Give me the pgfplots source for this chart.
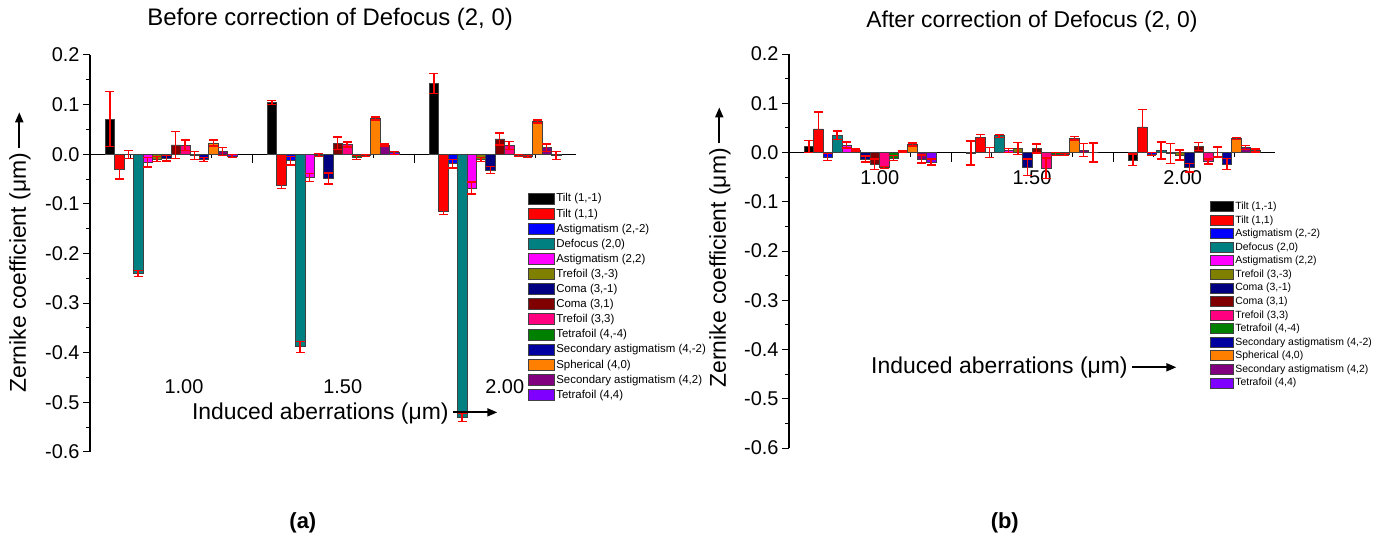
\documentclass[border=0pt]{standalone}
\usepackage{fontspec}
\setmainfont{Liberation Sans}
\usepackage{pgfplots}
\pgfplotsset{compat=1.18}
\usetikzlibrary{arrows.meta}

\definecolor{cA}{RGB}{0,0,0}
\definecolor{cB}{RGB}{255,0,0}
\definecolor{cC}{RGB}{0,0,255}
\definecolor{cD}{RGB}{0,128,128}
\definecolor{cE}{RGB}{255,0,255}
\definecolor{cF}{RGB}{128,128,0}
\definecolor{cG}{RGB}{0,0,128}
\definecolor{cH}{RGB}{128,0,0}
\definecolor{cI}{RGB}{255,0,128}
\definecolor{cJ}{RGB}{0,128,0}
\definecolor{cK}{RGB}{0,0,160}
\definecolor{cL}{RGB}{255,128,0}
\definecolor{cM}{RGB}{128,0,128}
\definecolor{cN}{RGB}{128,0,255}

\newcommand{\bigarr}[1]{\tikz[baseline=-0.55ex]\draw[line width=1.8bp,-{Triangle[length=10bp,width=8bp]}] (0,0)--(#1,0);}

\pgfplotsset{
  zern/.style={
    scale only axis, width=486bp, clip=false,
    xmin=0.5, xmax=3.5, ymin=-0.6, ymax=0.2,
    axis y line=left, axis x line=middle,
    axis line style={-, line width=1.1bp, black},
    ybar=0pt, bar width=9.4bp,
    ytick={-0.6,-0.5,-0.4,-0.3,-0.2,-0.1,0,0.1,0.2},
    minor ytick={-0.55,-0.45,-0.35,-0.25,-0.15,-0.05,0.05,0.15},
    yticklabel style={/pgf/number format/.cd, fixed, fixed zerofill, precision=1},
    /pgf/number format/assume math mode=true,
    tick align=outside, major tick length=7bp, minor tick length=4bp,
    tick style={black, line width=1bp},
    minor xtick={0.75,1.25,1.75,2.25,2.75,3.25},
    major x tick style={draw=none},
    extra x ticks={1.5,2.5}, extra x tick labels={},
    extra x tick style={major x tick style={draw=black}, major tick length=9bp},
    tick label style={font=\fontsize{20}{24}\selectfont},
    label style={font=\fontsize{23}{27}\selectfont},
    ylabel={Zernike coefficient (μm)\,\bigarr{36bp}},
    xlabel={Induced aberrations (μm)\,\bigarr{44bp}},
    error bars/y dir=both, error bars/y explicit,
    error bars/error bar style={draw=red, line width=1.4bp},
    error bars/error mark options={draw=red, rotate=90, mark size=4.5bp, line width=1.4bp},
    every axis plot/.append style={draw=black!75, line width=0.6bp},
    legend cell align=left,
    legend image code/.code={\draw[#1, line width=0.7bp] (0bp,-5.5bp) rectangle (26bp,5.5bp);},
  }
}

\begin{document}
\begin{tikzpicture}
\useasboundingbox (0,0) rectangle (1389bp,542bp);

% ---------------- (a) ----------------
\begin{axis}[zern, height=397bp, at={(90bp,90bp)}, anchor=south west,
  xtick={1.08,2.06,3.06}, xticklabels={1.00,1.50,2.00},
  xticklabel style={yshift=-215bp},
  title={Before correction of Defocus (2, 0)},
  title style={at={(axis description cs:0.494,1.075)}, anchor=center, font=\fontsize{24}{28}\selectfont},
  ylabel style={at={(axis description cs:-0.144,0.504)}, anchor=center},
  xlabel style={at={(axis description cs:0.525,0.098)}, anchor=center},
  legend style={at={(axis description cs:0.901,0.655)}, anchor=north west, draw=none, fill=none,
    font=\fontsize{11.5}{12.5}\selectfont, row sep=2.3bp, inner sep=0pt,
    nodes={inner sep=1.5bp}},
]
\addplot[fill=cA] coordinates {(1,0.071) +- (0,0.055) (2,0.104) +- (0,0.004) (3,0.143) +- (0,0.020)};
\addlegendentry{Tilt (1,-1)}
\addplot[fill=cB] coordinates {(1,-0.030) +- (0,0.020) (2,-0.062) +- (0,0.007) (3,-0.115) +- (0,0.007)};
\addlegendentry{Tilt (1,1)}
\addplot[fill=cC] coordinates {(1,-0.001) +- (0,0.008) (2,-0.013) +- (0,0.009) (3,-0.019) +- (0,0.009)};
\addlegendentry{Astigmatism (2,-2)}
\addplot[fill=cD] coordinates {(1,-0.240) +- (0,0.006) (2,-0.388) +- (0,0.011) (3,-0.530) +- (0,0.008)};
\addlegendentry{Defocus (2,0)}
\addplot[fill=cE] coordinates {(1,-0.016) +- (0,0.010) (2,-0.047) +- (0,0.008) (3,-0.068) +- (0,0.012)};
\addlegendentry{Astigmatism (2,2)}
\addplot[fill=cF] coordinates {(1,-0.010) +- (0,0.005) (2,-0.002) +- (0,0.003) (3,-0.011) +- (0,0.004)};
\addlegendentry{Trefoil (3,-3)}
\addplot[fill=cG] coordinates {(1,-0.008) +- (0,0.006) (2,-0.049) +- (0,0.011) (3,-0.032) +- (0,0.007)};
\addlegendentry{Coma (3,-1)}
\addplot[fill=cH] coordinates {(1,0.019) +- (0,0.027) (2,0.022) +- (0,0.013) (3,0.031) +- (0,0.012)};
\addlegendentry{Coma (3,1)}
\addplot[fill=cI] coordinates {(1,0.018) +- (0,0.011) (2,0.020) +- (0,0.005) (3,0.018) +- (0,0.008)};
\addlegendentry{Trefoil (3,3)}
\addplot[fill=cJ] coordinates {(1,-0.003) +- (0,0.008) (2,-0.006) +- (0,0.004) (3,-0.003) +- (0,0.002)};
\addlegendentry{Tetrafoil (4,-4)}
\addplot[fill=cK] coordinates {(1,-0.011) +- (0,0.004) (2,-0.002) +- (0,0.002) (3,-0.005) +- (0,0.002)};
\addlegendentry{Secondary astigmatism (4,-2)}
\addplot[fill=cL] coordinates {(1,0.023) +- (0,0.006) (2,0.072) +- (0,0.003) (3,0.066) +- (0,0.003)};
\addlegendentry{Spherical (4,0)}
\addplot[fill=cM] coordinates {(1,0.005) +- (0,0.008) (2,0.019) +- (0,0.002) (3,0.013) +- (0,0.008)};
\addlegendentry{Secondary astigmatism (4,2)}
\addplot[fill=cN] coordinates {(1,-0.004) +- (0,0.003) (2,0.003) +- (0,0.003) (3,-0.003) +- (0,0.008)};
\addlegendentry{Tetrafoil (4,4)}
\node[font=\fontsize{22}{26}\selectfont\bfseries] at (axis description cs:0.438,-0.179) {(a)};
\end{axis}

% ---------------- (b) ----------------
\begin{axis}[zern, height=394bp, at={(789bp,94bp)}, anchor=south west,
  xtick={1.06,2.0,2.93}, xticklabels={1.00,1.50,2.00},
  xticklabel style={yshift=-8bp},
  title={After correction of Defocus (2, 0)},
  title style={at={(axis description cs:0.5,1.068)}, anchor=center, font=\fontsize{23}{28}\selectfont},
  ylabel style={at={(axis description cs:-0.142,0.510)}, anchor=center},
  xlabel style={at={(axis description cs:0.484,0.203)}, anchor=center},
  legend style={at={(axis description cs:0.866,0.629)}, anchor=north west, draw=none, fill=none,
    font=\fontsize{10.5}{11.5}\selectfont, row sep=1.5bp, inner sep=0pt,
    nodes={inner sep=1.5bp}},
  legend image code/.code={\draw[#1, line width=0.7bp] (0bp,-5bp) rectangle (23bp,5bp);},
]
\addplot[fill=cA] coordinates {(1,0.012) +- (0,0.012) (2,-0.001) +- (0,0.024) (3,-0.015) +- (0,0.012)};
\addlegendentry{Tilt (1,-1)}
\addplot[fill=cB] coordinates {(1,0.048) +- (0,0.034) (2,0.031) +- (0,0.005) (3,0.052) +- (0,0.035)};
\addlegendentry{Tilt (1,1)}
\addplot[fill=cC] coordinates {(1,-0.009) +- (0,0.007) (2,0.000) +- (0,0.010) (3,-0.003) +- (0,0.003)};
\addlegendentry{Astigmatism (2,-2)}
\addplot[fill=cD] coordinates {(1,0.035) +- (0,0.009) (2,0.034) +- (0,0.003) (3,0.004) +- (0,0.017)};
\addlegendentry{Defocus (2,0)}
\addplot[fill=cE] coordinates {(1,0.015) +- (0,0.006) (2,0.004) +- (0,0.004) (3,-0.002) +- (0,0.020)};
\addlegendentry{Astigmatism (2,2)}
\addplot[fill=cF] coordinates {(1,0.005) +- (0,0.002) (2,0.008) +- (0,0.012) (3,-0.005) +- (0,0.010)};
\addlegendentry{Trefoil (3,-3)}
\addplot[fill=cG] coordinates {(1,-0.013) +- (0,0.006) (2,-0.030) +- (0,0.017) (3,-0.031) +- (0,0.009)};
\addlegendentry{Coma (3,-1)}
\addplot[fill=cH] coordinates {(1,-0.024) +- (0,0.011) (2,0.008) +- (0,0.009) (3,0.012) +- (0,0.008)};
\addlegendentry{Coma (3,1)}
\addplot[fill=cI] coordinates {(1,-0.031) +- (0,0.002) (2,-0.032) +- (0,0.021) (3,-0.018) +- (0,0.005)};
\addlegendentry{Trefoil (3,3)}
\addplot[fill=cJ] coordinates {(1,-0.011) +- (0,0.005) (2,-0.003) +- (0,0.003) (3,0.001) +- (0,0.010)};
\addlegendentry{Tetrafoil (4,-4)}
\addplot[fill=cK] coordinates {(1,0.002) +- (0,0.001) (2,-0.004) +- (0,0.002) (3,-0.023) +- (0,0.011)};
\addlegendentry{Secondary astigmatism (4,-2)}
\addplot[fill=cL] coordinates {(1,0.016) +- (0,0.003) (2,0.029) +- (0,0.004) (3,0.028) +- (0,0.002)};
\addlegendentry{Spherical (4,0)}
\addplot[fill=cM] coordinates {(1,-0.013) +- (0,0.008) (2,0.005) +- (0,0.013) (3,0.010) +- (0,0.004)};
\addlegendentry{Secondary astigmatism (4,2)}
\addplot[fill=cN] coordinates {(1,-0.019) +- (0,0.006) (2,0.000) +- (0,0.019) (3,0.004) +- (0,0.003)};
\addlegendentry{Tetrafoil (4,4)}
\node[font=\fontsize{22}{26}\selectfont\bfseries] at (axis description cs:0.444,-0.190) {(b)};
\end{axis}
\end{tikzpicture}
\end{document}
